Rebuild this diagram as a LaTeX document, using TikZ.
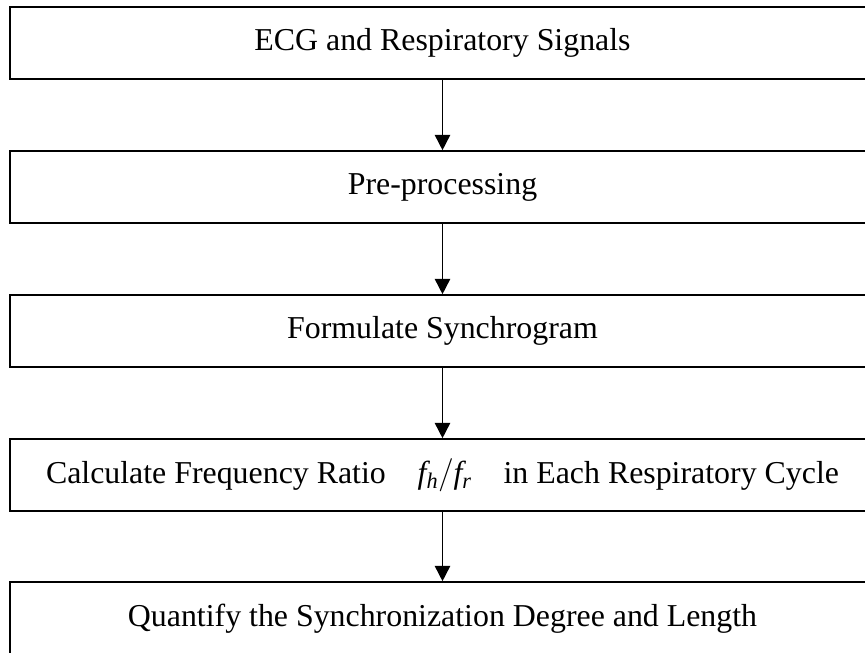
\documentclass[tikz,border=0pt]{standalone}
\usepackage{fontspec}
\setmainfont{Liberation Serif}
\usetikzlibrary{arrows.meta,positioning}

\begin{document}
\begin{tikzpicture}[x=0.75pt, y=0.75pt, >={Triangle[length=11.5pt, width=11.5pt]},
  font=\fontsize{23.9}{28}\selectfont,
  stage/.style={draw, line width=1.2pt, inner sep=0pt, minimum width=648.75pt, minimum height=54pt, align=center},
  link/.style={->, line width=1.2pt}]
\useasboundingbox (0,0) rectangle (865,-653);
\node[stage] (sig)  at (442.5,-43)  {ECG and Respiratory Signals};
\node[stage] (pre)  at (442.5,-187) {Pre-processing};
\node[stage] (syn)  at (442.5,-331) {Formulate Synchrogram};
\node[stage] (rat)  at (442.5,-475) {Calculate Frequency Ratio\quad $\mathit{f}_{\mathit{h}}\big/\mathit{f}_{\mathit{r}}$\quad in Each Respiratory Cycle};
\node[stage, minimum height=55.5pt] (qua) at (442.5,-619) {Quantify the Synchronization Degree and Length};
\draw[link] (sig) -- (pre);
\draw[link] (pre) -- (syn);
\draw[link] (syn) -- (rat);
\draw[link] (rat) -- (qua);
\end{tikzpicture}
\end{document}
